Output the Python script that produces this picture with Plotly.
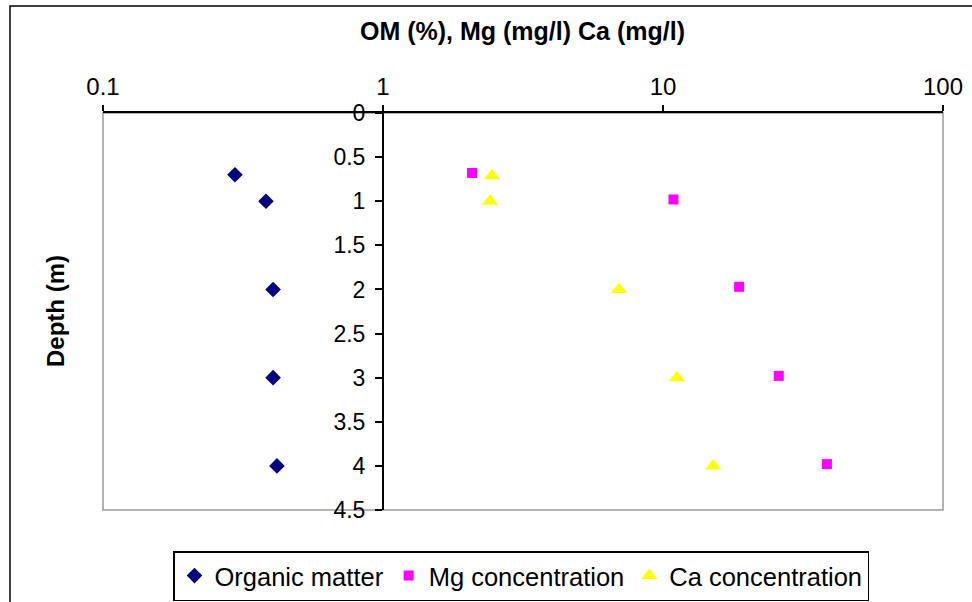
import plotly.graph_objects as go

depth_om = [0.7, 1.0, 2.0, 3.0, 4.0]
om_values = [0.296, 0.382, 0.405, 0.405, 0.418]

depth_mg = [0.68, 0.98, 1.97, 2.98, 3.98]
mg_values = [2.08, 10.9, 18.7, 25.9, 38.5]

depth_ca = [0.71, 1.0, 2.0, 3.0, 4.0]
ca_values = [2.45, 2.41, 6.96, 11.2, 15.1]

x_tickvals = [0.1, 1, 10, 100]
x_ticktext = ["0.1", "1", "10", "100"]
y_tickvals = [0, 0.5, 1, 1.5, 2, 2.5, 3, 3.5, 4, 4.5]
y_ticktext = ["0", "0.5", "1", "1.5", "2", "2.5", "3", "3.5", "4", "4.5"]

FONT = "Liberation Sans, Arial, sans-serif"

fig = go.Figure()
fig.add_trace(go.Scatter(x=om_values, y=depth_om, mode="markers", name="Organic matter",
                         marker=dict(symbol="diamond", color="#000080", size=12)))
fig.add_trace(go.Scatter(x=mg_values, y=depth_mg, mode="markers", name="Mg concentration",
                         marker=dict(symbol="square", color="#FF00FF", size=10)))
fig.add_trace(go.Scatter(x=ca_values, y=depth_ca, mode="markers", name="Ca concentration",
                         marker=dict(symbol="triangle-up", color="#FFFF00", size=14)))

L, R, T, B = 103, 29, 113, 92
W, H = 972, 602
pw = W - L - R
ph = H - T - B

fig.update_layout(
    width=W, height=H,
    margin=dict(l=L, r=R, t=T, b=B, autoexpand=False),
    paper_bgcolor="white", plot_bgcolor="white",
    font=dict(family=FONT, size=23, color="black"),
    showlegend=True,
    legend=dict(orientation="h", xref="container", yref="container",
                x=521 / W, xanchor="center", y=(H - 576) / H, yanchor="middle",
                bordercolor="black", borderwidth=1.5,
                font=dict(family=FONT, size=25.5, color="black"),
                itemwidth=30, tracegroupgap=0),
    xaxis=dict(type="log", range=[-1, 2], side="top", showgrid=False, zeroline=False,
               automargin=False,
               showline=True, linecolor="black", linewidth=2,
               tickvals=x_tickvals, ticktext=x_ticktext,
               ticks="outside", ticklen=6, tickcolor="black", tickwidth=1.5,
               tickfont=dict(family=FONT, size=24, color="black")),
    yaxis=dict(range=[4.5, 0], showgrid=False, zeroline=False,
               automargin=False, anchor="free", position=1/3,
               showline=True, linecolor="black", linewidth=2,
               tickvals=y_tickvals, ticktext=y_ticktext,
               ticks="outside", ticklen=7, tickcolor="black", tickwidth=1.5,
               ticklabelstandoff=5,
               tickfont=dict(family=FONT, size=23, color="black")),
    shapes=[
        dict(type="rect", xref="paper", yref="paper", x0=0, x1=1, y0=0, y1=1,
             line=dict(color="#999999", width=1.5), layer="below"),
        dict(type="rect", xref="paper", yref="paper",
             x0=(10 - L) / pw, x1=(980 - L) / pw, y0=(H - B - 612) / ph, y1=(H - B - 6) / ph,
             line=dict(color="black", width=1.5), layer="below"),
    ],
    annotations=[
        dict(text="<b>OM (%), Mg (mg/l) Ca (mg/l)</b>", xref="paper", yref="paper",
             x=(522 - L) / pw, y=(H - B - 31) / ph, xanchor="center", yanchor="middle",
             showarrow=False, font=dict(family=FONT, size=25, color="black")),
        dict(text="<b>Depth (m)</b>", xref="paper", yref="paper", textangle=-90,
             x=(55 - L) / pw, y=(H - B - 311) / ph, xanchor="center", yanchor="middle",
             showarrow=False, font=dict(family=FONT, size=24, color="black")),
    ],
)

fig.write_html("out.html", config={"displayModeBar": False},
               post_script="document.body.style.margin='0';")
